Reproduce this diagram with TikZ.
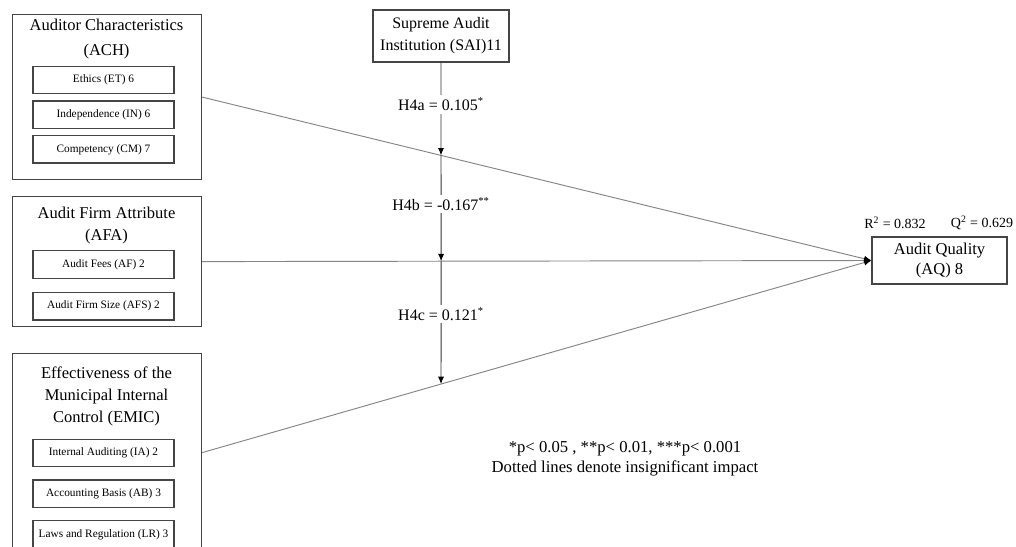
\documentclass[tikz,border=0pt]{standalone}
\usepackage{fontspec}
\setmainfont{Liberation Serif}
\usetikzlibrary{positioning,arrows.meta}

\definecolor{framegray}{HTML}{454545}
\definecolor{pathgray}{HTML}{858585}

\begin{document}
\begin{tikzpicture}[x=0.75pt, y=-0.75pt,
	construct/.style={draw=framegray, line width=0.9pt, inner sep=0pt, anchor=north west, minimum width=141.75pt},
	heading/.style={align=center, inner sep=0pt, font=\fontsize{12.4}{16.5}\selectfont},
	indicator/.style={draw=framegray, line width=0.9pt, inner sep=0pt, minimum width=105.75pt, minimum height=20.6pt, font=\fontsize{8.5}{10}\selectfont},
	latent/.style={draw=framegray, line width=0.9pt, inner sep=0pt, align=center},
	relation/.style={draw=pathgray, line width=0.7pt, -{Latex[length=5.5pt,width=4.5pt,black]}},
	effect/.style={draw=black!80, line width=0.7pt, -{Latex[length=5.5pt,width=4.5pt,black]}},
	coef/.style={fill=white, inner sep=2pt, font=\fontsize{12}{14}\selectfont},
	stat/.style={inner sep=0pt, font=\fontsize{10.5}{12}\selectfont}]

	\clip (0,0) rectangle (1016,546);
	\fill[white] (0,0) rectangle (1016,546);

	% exogenous constructs
	\node[construct, minimum height=123.75pt] (ach) at (12,14) {};
	\node[heading, font=\fontsize{12.4}{18.75}\selectfont] (achT) at (106.5,39.5) {Auditor Characteristics\\(ACH)};
	\node[indicator] (et) at (103.5,80) {Ethics (ET) 6};
	\node[indicator, below=4.5pt of et] (in) {Independence (IN) 6};
	\node[indicator, below=4.5pt of in] (cm) {Competency (CM) 7};

	\node[construct, minimum height=97.5pt] (afa) at (12,196) {};
	\node[heading] (afaT) at (106.5,226) {Audit Firm Attribute\\(AFA)};
	\node[indicator] (af) at (103.5,264.5) {Audit Fees (AF) 2};
	\node[indicator, below=9.75pt of af] (afs) {Audit Firm Size (AFS) 2};

	\node[construct, minimum height=148.5pt] (emic) at (12,353) {};
	\node[heading] (emicT) at (106.5,396) {Effectiveness of the\\Municipal Internal\\Control (EMIC)};
	\node[indicator] (ia) at (103.5,453) {Internal Auditing (IA) 2};
	\node[indicator, below=9pt of ia] (ab) {Accounting Basis (AB) 3};
	\node[indicator, below=9pt of ab] (lr) {Laws and Regulation (LR) 3};

	% moderator and outcome
	\node[latent, minimum width=102pt, minimum height=39pt, font=\fontsize{12}{16.5}\selectfont] (sai) at (441,36) {Supreme Audit\\Institution (SAI)11};
	\node[latent, minimum width=101.25pt, minimum height=35.25pt, font=\fontsize{12.4}{15}\selectfont] (aq) at (939.5,260.5) {Audit Quality\\(AQ) 8};
	\node[stat] (r2) at (895,223) {R\textsuperscript{2} = 0.832};
	\node[stat] (q2) at (982,223) {Q\textsuperscript{2} = 0.629};

	% direct paths
	\draw[relation] (ach.east) -- (aq.west);
	\draw[relation] (afa.east) -- (aq.west);
	\draw[relation] (emic.east) -- (aq.west);

	% moderating effects
	\coordinate (saibase) at (sai.south |- emic.south);
	\coordinate (xa) at (intersection of ach.east--aq.west and sai.south--saibase);
	\coordinate (xb) at (intersection of afa.east--aq.west and sai.south--saibase);
	\coordinate (xc) at (intersection of emic.east--aq.west and sai.south--saibase);
	\draw[effect] (sai.south) -- node[coef, pos=0.45] (h4a) {H4a = 0.105\textsuperscript{*}} (xa);
	\draw[effect] (xa) -- node[coef, pos=0.46] (h4b) {H4b = -0.167\textsuperscript{**}} (xb);
	\draw[effect] (xb) -- node[coef, pos=0.43] (h4c) {H4c = 0.121\textsuperscript{*}} (xc);

	\node[align=center, font=\fontsize{12.5}{15}\selectfont] (note) at (625,459) {*p< 0.05 , **p< 0.01, ***p< 0.001\\Dotted lines denote insignificant impact};
\end{tikzpicture}
\end{document}
